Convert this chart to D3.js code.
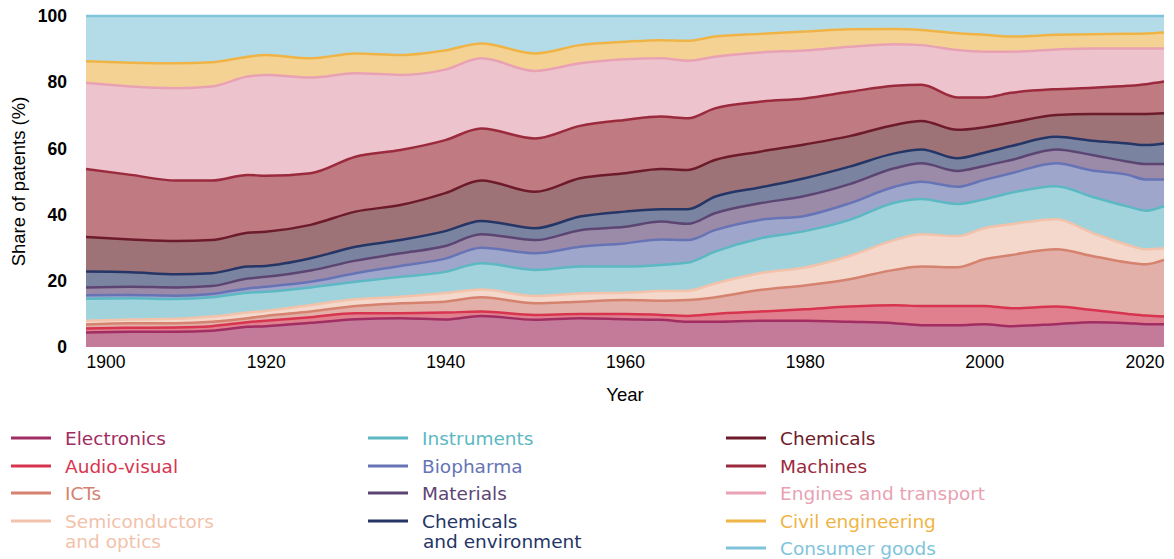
<!DOCTYPE html>
<html>
<head>
<meta charset="utf-8">
<script src="https://cdn.jsdelivr.net/npm/d3@7"></script>
<style>
  body { margin: 0; background: #fff; }
  .AxisText { font-family: "Liberation Sans", Arial, sans-serif; font-size: 17.5px; fill: #000; }
  .TitleText { font-family: "Liberation Sans", Arial, sans-serif; font-size: 18.5px; fill: #000; }
  .LegendText { font-family: "DejaVu Sans", sans-serif; font-size: 18.5px; }
</style>
</head>
<body>
<div id="svgContainer"></div>
<script>
//Globals
var width = 1174;
var height = 559;

var years = [1900,1905,1910,1914,1918,1920,1925,1930,1935,1940,1944,1950,1955,1960,1964,1967,1970,1975,1980,1985,1990,1993,1997,2000,2003,2008,2012,2016,2018,2020];

// share of patents (%) per field, bottom layer first
var electronics  = [4.4,4.6,4.6,4.9,6.1,6.3,7.3,8.4,8.7,8.3,9.4,8.2,8.7,8.4,8.2,7.6,7.6,7.9,7.9,7.6,7.2,6.6,6.6,6.9,6.3,6.9,7.5,7.2,6.9,6.9];
var audioVisual  = [1.2,1.2,1.3,1.4,1.4,1.6,1.7,1.8,1.5,2.1,1.3,1.5,1.3,1.6,1.5,1.8,2.4,2.8,3.5,4.6,5.4,5.8,5.8,5.5,5.4,5.3,3.7,2.8,2.6,2.3];
var icts         = [1.2,1.4,1.3,1.3,1.2,1.5,1.7,2.2,3.0,3.3,4.3,3.5,3.7,4.2,4.3,4.8,5.0,6.5,7.2,8.3,10.7,11.9,11.7,14.1,16.1,17.3,16.3,15.5,15.5,17.1];
var semis        = [1.1,1.1,1.3,1.6,1.7,1.5,2.0,2.0,2.0,2.6,2.4,2.2,2.5,2.2,2.9,2.8,4.2,5.1,5.4,7.0,9.0,9.8,9.4,9.4,9.3,9.1,7.0,5.3,4.5,3.5];
var instruments  = [6.7,6.4,6.0,5.8,6.0,5.8,5.3,5.3,6.0,6.4,7.9,7.9,8.1,7.9,7.9,8.5,9.6,10.5,11.0,10.9,11.3,10.6,9.7,8.7,9.5,10.0,10.9,11.6,11.7,12.8];
var biopharma    = [1.0,1.0,1.0,1.0,1.3,1.5,1.7,2.6,3.3,4.0,4.7,5.0,6.0,7.0,7.7,6.8,6.5,5.6,4.6,5.0,4.8,5.2,5.2,5.9,5.9,6.9,7.9,9.6,9.4,8.0];
var materials    = [2.4,2.5,2.5,2.4,3.0,3.0,3.4,3.8,3.8,3.8,4.1,4.0,5.0,5.0,5.4,4.9,5.1,5.0,6.0,5.8,5.6,5.6,4.8,4.2,4.0,4.2,4.7,4.0,4.7,4.7];
var chemEnv      = [4.8,4.4,4.0,3.9,3.6,3.3,3.7,4.2,4.0,4.5,4.0,3.6,4.1,4.6,3.7,4.4,5.0,4.8,5.4,5.3,4.5,4.2,3.8,4.0,4.2,3.8,4.3,5.5,5.7,6.2];
var chemicals    = [10.4,9.9,10.0,10.0,10.2,10.3,10.1,10.6,10.6,11.5,12.2,11.0,11.6,11.6,12.2,11.9,11.1,10.8,10.2,9.2,8.6,8.6,8.6,7.7,7.1,6.6,8.1,8.9,9.4,9.1];
var machines     = [20.6,19.5,18.3,18.0,17.5,16.9,15.6,16.6,16.6,16.0,15.7,16.1,15.8,16.1,15.8,15.6,15.6,15.1,13.9,13.4,11.8,10.9,9.8,9.0,9.0,7.8,7.9,8.5,9.0,9.6];
var engines      = [26.0,26.7,27.9,28.4,29.7,30.5,28.9,25.2,22.7,21.3,21.2,20.4,18.9,18.3,17.6,17.4,15.6,14.9,14.5,13.6,12.6,12.0,14.3,13.8,12.4,12.0,11.9,11.3,10.8,10.0];
var civilEng     = [6.5,7.2,7.5,7.3,6.0,6.0,5.8,6.0,6.0,5.8,4.5,5.3,5.5,5.3,5.5,6.0,6.1,5.6,5.7,5.3,4.6,4.6,5.1,5.1,4.6,4.4,4.3,4.4,4.5,4.8];
var consumer     = [13.7,14.1,14.3,14.0,12.3,11.8,12.8,11.3,11.8,10.4,8.3,11.3,8.8,7.8,7.3,7.5,6.2,5.4,4.7,4.0,3.9,4.2,5.2,5.7,6.2,5.7,5.5,5.4,5.3,5.0];

var seriesNames = ["Electronics","Audio-visual","ICTs","Semiconductors and optics","Instruments","Biopharma","Materials","Chemicals and environment","Chemicals","Machines","Engines and transport","Civil engineering","Consumer goods"];
var seriesValues = [electronics,audioVisual,icts,semis,instruments,biopharma,materials,chemEnv,chemicals,machines,engines,civilEng,consumer];

var xTicks = [1900,1920,1940,1960,1980,2000,2020];
var yTicks = [0,20,40,60,80,100];

var lineColors = ["#a12d62","#d8344f","#d5826f","#f2c2ab","#5cb8c3","#6674b6","#5c4573","#243566","#6d1b2a","#9b2a3d","#e8a2b3","#f0b446","#80c4dc"];
var fillColors = ["#c47b99","#e0808f","#e2b0a8","#f4d8cc","#a0d3db","#9ea6cc","#9b8aa8","#7a84a0","#9d7377","#bf7a82","#edc4cd","#f4d294","#b4dce8"];

// legend layout: [column, row] and label lines
var legendCols = [11, 368, 726];
var legendRows = [438, 466, 493, 521, 548];
var legendPos = [[0,0],[0,1],[0,2],[0,3],[1,0],[1,1],[1,2],[1,3],[2,0],[2,1],[2,2],[2,3],[2,4]];
var legendLabels = [["Electronics"],["Audio-visual"],["ICTs"],["Semiconductors","and optics"],["Instruments"],["Biopharma"],["Materials"],["Chemicals","and environment"],["Chemicals"],["Machines"],["Engines and transport"],["Civil engineering"],["Consumer goods"]];

var plotLeft = 86, plotRight = 1164, plotTop = 16, plotBottom = 347;

var svgContainer = null;

function Init() {
    svgContainer = d3.select("#svgContainer")
        .append("svg")
        .attr("class","SvgContainer")
        .attr("width",width)
        .attr("height",height);

    var rows = years.map(function (yr, i) {
        var row = {year: yr};
        seriesNames.forEach(function (name, k) { row[name] = seriesValues[k][i]; });
        return row;
    });

    var stacked = d3.stack().keys(seriesNames)(rows);

    var x = d3.scaleLinear().domain([1900,2020]).range([plotLeft,plotRight]);
    var y = d3.scaleLinear().domain([0,100]).range([plotBottom,plotTop]);

    var area = d3.area()
        .x(function (d) { return x(d.data.year); })
        .y0(function (d) { return y(d[0]); })
        .y1(function (d) { return y(d[1]); })
        .curve(d3.curveMonotoneX);

    var topLine = d3.line()
        .x(function (d) { return x(d.data.year); })
        .y(function (d) { return y(d[1]); })
        .curve(d3.curveMonotoneX);

    var plot = svgContainer.append("g").attr("id","PlotGroup");

    plot.selectAll(".LayerArea")
        .data(stacked)
        .enter()
        .append("path")
        .attr("class","LayerArea")
        .attr("d",area)
        .attr("fill",function (d,i) { return fillColors[i]; });

    plot.selectAll(".LayerLine")
        .data(stacked)
        .enter()
        .append("path")
        .attr("class","LayerLine")
        .attr("d",topLine)
        .attr("fill","none")
        .attr("stroke",function (d,i) { return lineColors[i]; })
        .attr("stroke-width",2.5);

    // x axis
    var xAxis = svgContainer.append("g")
        .attr("transform","translate(0,"+(plotBottom+6)+")")
        .call(d3.axisBottom(x).tickValues(xTicks).tickSize(0).tickFormat(d3.format("d")));
    xAxis.select(".domain").remove();
    xAxis.selectAll("text")
        .attr("class","AxisText")
        .attr("dy","0.71em")
        .attr("y",3)
        .attr("text-anchor",function (d,i) {
            if (i == 0) return "start";
            if (i == xTicks.length-1) return "end";
            return "middle";
        });

    // y axis
    var yAxis = svgContainer.append("g")
        .attr("transform","translate("+(plotLeft-19)+",0)")
        .call(d3.axisLeft(y).tickValues(yTicks).tickSize(0));
    yAxis.select(".domain").remove();
    yAxis.selectAll("text")
        .attr("class","AxisText")
        .attr("x",0)
        .style("font-weight","bold");

    svgContainer.append("text")
        .attr("class","TitleText")
        .text("Year")
        .attr("text-anchor","middle")
        .attr("x",(plotLeft+plotRight)/2)
        .attr("y",401);

    svgContainer.append("text")
        .attr("class","TitleText")
        .text("Share of patents (%)")
        .attr("text-anchor","middle")
        .attr("transform","translate(25,"+((plotTop+plotBottom)/2)+") rotate(-90)");

    // legend
    var legend = svgContainer.selectAll(".LegendGroup")
        .data(seriesNames)
        .enter()
        .append("g")
        .attr("class","LegendGroup")
        .attr("transform",function (d,i) {
            return "translate("+legendCols[legendPos[i][0]]+","+legendRows[legendPos[i][1]]+")";
        });

    legend.append("line")
        .attr("x1",0)
        .attr("x2",40)
        .attr("y1",0)
        .attr("y2",0)
        .attr("stroke",function (d,i) { return lineColors[i]; })
        .attr("stroke-width",3);

    legend.each(function (d,i) {
        var g = d3.select(this);
        legendLabels[i].forEach(function (txt, j) {
            g.append("text")
                .attr("class","LegendText")
                .attr("x",54 + (j > 0 && i == 7 ? 1 : 0))
                .attr("y",7 + j*20)
                .attr("fill",lineColors[i])
                .text(txt);
        });
    });
}

Init();
</script>
</body>
</html>
